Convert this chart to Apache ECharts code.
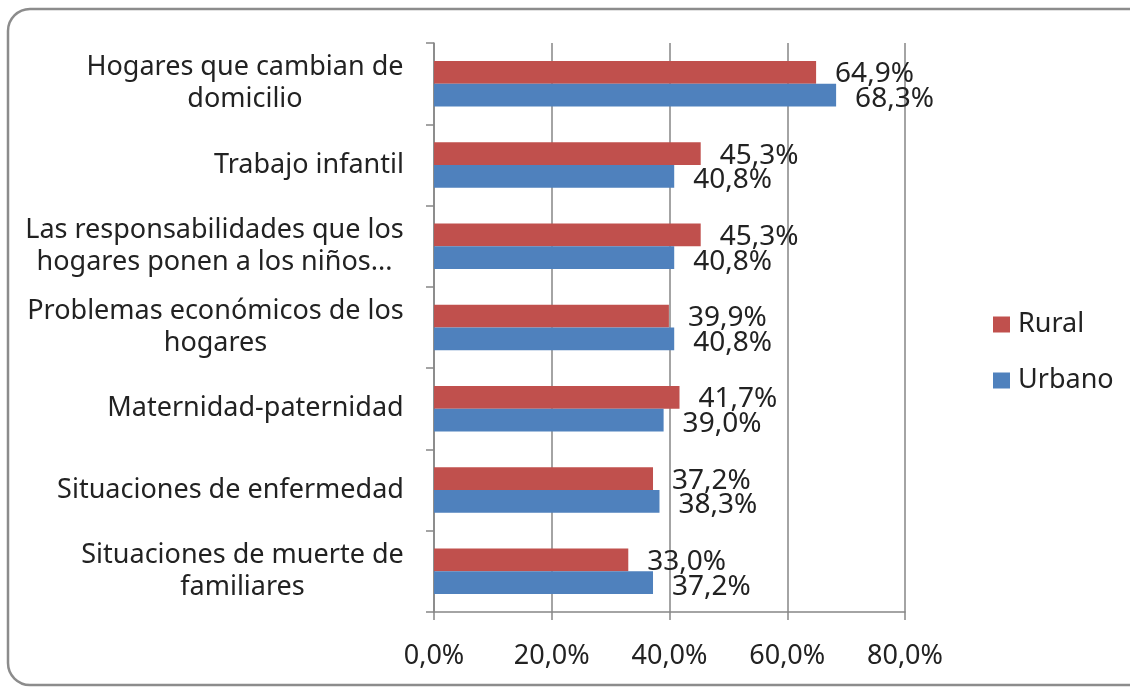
<!DOCTYPE html>
<html>
<head>
<meta charset="utf-8">
<script src="https://cdn.jsdelivr.net/npm/echarts@6/dist/echarts.min.js"></script>
<style>
html, body { margin: 0; padding: 0; background: #fff; }
#chart { width: 1130px; height: 687px; }
</style>
</head>
<body>
<div id="chart"></div>
<script>
// datos
var categorias = [
    'Hogares que cambian de\ndomicilio',
    'Trabajo infantil',
    'Las responsabilidades que los\nhogares ponen a los niños...',
    'Problemas económicos de los\nhogares',
    'Maternidad-paternidad',
    'Situaciones de enfermedad',
    'Situaciones de muerte de\nfamiliares'
];
var rural  = [64.9, 45.3, 45.3, 39.9, 41.7, 37.2, 33.0];
var urbano = [68.3, 40.8, 40.8, 40.8, 39.0, 38.3, 37.2];
var ejeMin = 0, ejeMax = 80, ejeIntervalo = 20;

var fuente = '"Noto Sans", sans-serif';
var tamCat = 27;

function pct(v) {
    return v.toFixed(1).replace('.', ',') + '%';
}

// ancho de cada etiqueta para centrar las lineas entre si
var ctx = document.createElement('canvas').getContext('2d');
ctx.font = tamCat + 'px ' + fuente;
var rich = {};
categorias.forEach(function (c, i) {
    var w = 0;
    c.split('\n').forEach(function (l) { w = Math.max(w, ctx.measureText(l).width); });
    rich['c' + i] = { width: Math.ceil(w) + 2, align: 'center', fontSize: tamCat, lineHeight: 32, color: '#222', fontFamily: fuente };
});

var chart = echarts.init(document.getElementById('chart'));
chart.setOption({
    animation: false,
    textStyle: { fontFamily: fuente },
    graphic: [{
        type: 'rect',
        shape: { x: 8, y: 9, width: 1150, height: 676, r: 22 },
        style: { fill: 'none', stroke: '#8c8c8c', lineWidth: 2.5 },
        silent: true
    }],
    grid: { left: 434, right: 225, top: 43, bottom: 75 },
    legend: {
        orient: 'vertical',
        left: 988,
        top: 306,
        itemWidth: 17,
        itemHeight: 16,
        itemGap: 29,
        icon: 'rect',
        textStyle: { fontSize: 27, color: '#222', fontFamily: fuente, padding: [0, 0, 0, 3] },
        data: ['Rural', 'Urbano']
    },
    xAxis: {
        type: 'value',
        min: ejeMin,
        max: ejeMax,
        interval: ejeIntervalo,
        axisLine: { show: true, lineStyle: { color: '#868686', width: 1.5 } },
        axisTick: { show: true, length: 8, lineStyle: { color: '#868686', width: 1.5 } },
        splitLine: { show: true, lineStyle: { color: '#868686', width: 1.5 } },
        axisLabel: { margin: 31, fontSize: 27, color: '#222', fontFamily: fuente, formatter: function (v) { return pct(v); } }
    },
    yAxis: {
        type: 'category',
        inverse: true,
        data: categorias,
        axisLine: { show: true, lineStyle: { color: '#868686', width: 1.5 } },
        axisTick: { show: true, length: 8, lineStyle: { color: '#868686', width: 1.5 } },
        axisLabel: {
            margin: 29,
            formatter: function (v, i) {
                return v.split('\n').map(function (l) { return '{c' + i + '|' + l + '}'; }).join('\n');
            },
            rich: rich
        }
    },
    series: [{
        name: 'Rural',
        type: 'bar',
        data: rural,
        barGap: '0%',
        barCategoryGap: '44%',
        itemStyle: { color: '#C0504D' },
        label: { show: true, position: 'right', distance: 19, offset: [0, 2], fontSize: 28, color: '#222', fontFamily: fuente, formatter: function (p) { return pct(p.value); } }
    }, {
        name: 'Urbano',
        type: 'bar',
        data: urbano,
        barGap: '0%',
        barCategoryGap: '44%',
        itemStyle: { color: '#4F81BD' },
        label: { show: true, position: 'right', distance: 19, offset: [0, 4], fontSize: 28, color: '#222', fontFamily: fuente, formatter: function (p) { return pct(p.value); } }
    }]
});
</script>
</body>
</html>
